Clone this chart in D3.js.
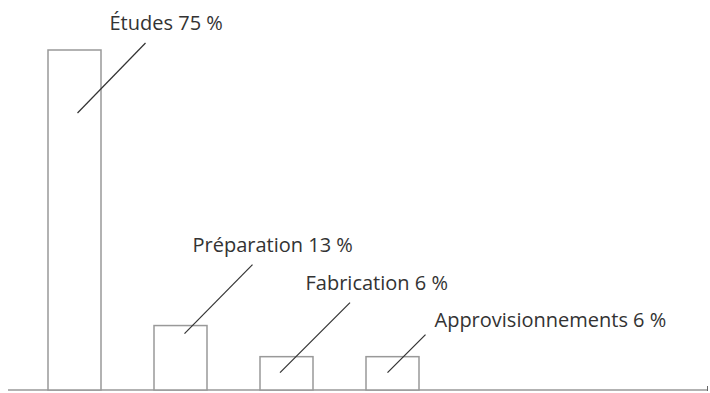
<!DOCTYPE html>
<html>
<head>
<meta charset="utf-8">
<script src="https://cdn.jsdelivr.net/npm/d3@7"></script>
<style>
  body { margin: 0; background: #fff; }
  text { font-family: "Open Sans", sans-serif; fill: #333; }
</style>
</head>
<body>
<script>
const categories = ['Études', 'Préparation', 'Fabrication', 'Approvisionnements']
const values = [75, 13, 6, 6]
const labels = ['Études 75 %', 'Préparation 13 %', 'Fabrication 6 %', 'Approvisionnements 6 %']

// leader line offsets, relative to bar centre / bar top : [x1, y1, x2, y2, textX, textY]
const leaders = [
  [3, 63, 71, -7, 35, -20],
  [4, 8, 72, -61, 12, -74],
  [-6.5, 16, 63.5, -54, 19, -67],
  [-5, 16, 33, -22, 42, -30]
]

const width = 710
const height = 393
const baseY = 390

const svg = d3.select('body').append('svg')
      .attr('width', width)
      .attr('height', height)

const x = d3.scaleBand()
      .domain(categories)
      .range([48, 419])
      .paddingInner(0.5)
      .paddingOuter(0)
const y = d3.scaleLinear()
      .domain([-1.5, 75])
      .range([baseY, 50])

// axis line
svg.append('line')
    .attr('x1', 8).attr('x2', 708)
    .attr('y1', baseY).attr('y2', baseY)
    .attr('stroke', '#999')
    .attr('stroke-width', 1.5)
svg.append('line')
    .attr('x1', 707.5).attr('x2', 707.5)
    .attr('y1', baseY - 4).attr('y2', baseY + 1)
    .attr('stroke', '#666')
    .attr('stroke-width', 1)

svg.selectAll('.bar')
  .data(values)
  .enter().append('rect')
    .attr('class', 'bar')
    .attr('x', function(d, i) { return x(categories[i]) })
    .attr('y', function(d) { return y(d) })
    .attr('width', x.bandwidth())
    .attr('height', function(d) { return baseY - y(d) })
    .attr('fill', '#fff')
    .attr('stroke', '#999')
    .attr('stroke-width', 1.5)

const g = svg.selectAll('.lab')
  .data(values)
  .enter().append('g')
    .attr('class', 'lab')
    .attr('transform', function(d, i) {
      return 'translate(' + (x(categories[i]) + x.bandwidth() / 2) + ',' + y(d) + ')'
    })
g.append('line')
    .attr('x1', function(d, i) { return leaders[i][0] })
    .attr('y1', function(d, i) { return leaders[i][1] })
    .attr('x2', function(d, i) { return leaders[i][2] })
    .attr('y2', function(d, i) { return leaders[i][3] })
    .attr('stroke', '#333')
    .attr('stroke-width', 1.2)
g.append('text')
    .attr('x', function(d, i) { return leaders[i][4] })
    .attr('y', function(d, i) { return leaders[i][5] })
    .style('font-size', '20px')
    .text(function(d, i) { return labels[i] })
</script>
</body>
</html>
